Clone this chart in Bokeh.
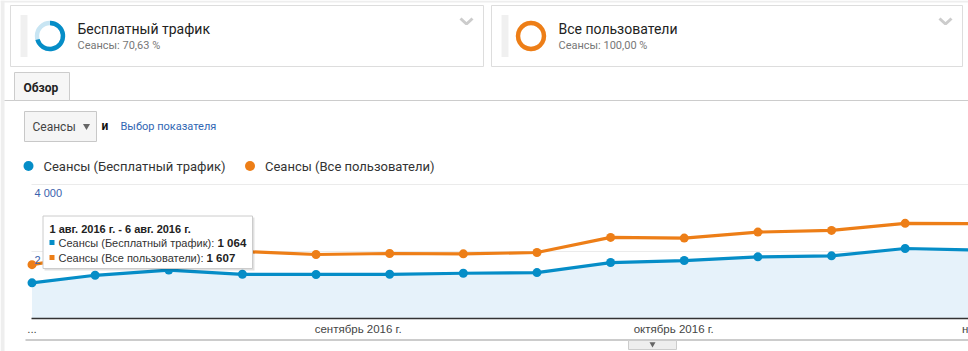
import numpy as np
import pandas as pd
from bokeh.plotting import figure
from bokeh.models import Range1d, ColumnDataSource
from bokeh.core.properties import value
from bokeh.embed import file_html
from bokeh.resources import INLINE

# ---------------- data ----------------
week_start = ["2016-08-01", "2016-08-07", "2016-08-14", "2016-08-21", "2016-08-28",
              "2016-09-04", "2016-09-11", "2016-09-18", "2016-09-25", "2016-10-02",
              "2016-10-09", "2016-10-16", "2016-10-23", "2016-10-30"]
organic = [1064, 1290, 1445, 1320, 1315, 1320, 1350, 1370, 1670, 1730, 1840, 1870, 2090, 2040]
all_users = [1607, 1900, 2010, 2000, 1910, 1940, 1930, 1970, 2420, 2400, 2580, 2630, 2840, 2830]
series_names = ["Сеансы (Бесплатный трафик)", "Сеансы (Все пользователи)"]
segment_names = ["Бесплатный трафик", "Все пользователи"]
segment_share = [70.63, 100.00]
y_ticks = [2000, 4000]
y_tick_labels = ["2 000", "4 000"]
month_dates = ["2016-08-01", "2016-09-01", "2016-10-01", "2016-11-01"]
month_labels = ["...", "сентябрь 2016 г.", "октябрь 2016 г.", "ноябрь 2016 г."]
tooltip_title = "1 авг. 2016 г. - 6 авг. 2016 г."

BLUE = "#058dc7"
ORANGE = "#ed7e17"
FONT = value("Roboto")
FONT2 = value("Liberation Sans")

W, H = 968, 351

def ms(d):
    return pd.Timestamp(d).value / 1e6

DAY = 86400000.0
px_per_day = 10.52
x0_px = 31.5
d0 = ms(week_start[0])
date_range = Range1d(d0 - x0_px / px_per_day * DAY, d0 + (W - x0_px) / px_per_day * DAY)
zero_px, px_per_k = 318.0, 33.5
val_range = Range1d(-(H - zero_px) / px_per_k * 1000, zero_px / px_per_k * 1000)

p = figure(width=W, height=H, x_range=Range1d(0, W), y_range=Range1d(H, 0),
           output_backend="svg", toolbar_location=None, min_border=0,
           x_axis_location=None, y_axis_location=None, outline_line_color=None)
p.grid.visible = False
p.background_fill_color = "white"
p.border_fill_color = "white"
p.extra_x_ranges = {"date": date_range}
p.extra_y_ranges = {"val": val_range}

# page chrome
p.quad(left=[0], right=[4], top=[0], bottom=[H], fill_color="#eeeeee", line_color=None)
p.quad(left=[0], right=[W], top=[0], bottom=[2], fill_color="#eeeeee", line_color=None)

# segment cards
cards = [(10, 483), (491, 962)]
for i, (l, r) in enumerate(cards):
    p.quad(left=[l], right=[r], top=[5], bottom=[66], fill_color="white", line_color="#dddddd", line_width=1)
    # drag handle
    p.segment(x0=[l + 13.5], y0=[15], x1=[l + 13.5], y1=[57], line_color="#e2e2e2", line_width=7, line_dash="1 1")
    cx = l + 39.5
    share = segment_share[i]
    col = BLUE if i == 0 else ORANGE
    bg = "#c8e5f3" if i == 0 else "#fbd9b9"
    p.annular_wedge(x=[cx], y=[35.5], inner_radius=10.8, outer_radius=15.2,
                    start_angle=0, end_angle=2 * np.pi, fill_color=bg, line_color=None)
    p.annular_wedge(x=[cx], y=[35.5], inner_radius=10.8, outer_radius=15.2,
                    start_angle=np.pi / 2, end_angle=np.pi / 2 - 2 * np.pi * share / 100 + 1e-4,
                    direction="clock", fill_color=col, line_color=None)
    tx = l + 67
    p.text(x=[tx], y=[28], text=[segment_names[i]], text_font=FONT, text_font_size="14px",
           text_color="#222222", text_baseline="middle")
    p.text(x=[tx], y=[44.5], text=["Сеансы: " + f"{share:.2f}".replace(".", ",") + " %"], text_font=FONT,
           text_font_size="11px", text_color="#777777", text_baseline="middle")
    p.line(x=[r - 23, r - 17, r - 11], y=[18, 23.5, 18], line_color="#cccccc", line_width=3)

# tab
p.segment(x0=[4], y0=[100], x1=[W], y1=[100], line_color="#cccccc", line_width=1)
p.quad(left=[14], right=[69], top=[72], bottom=[100], fill_color="#f6f6f6", line_color="#cccccc")
p.text(x=[23], y=[87], text=["Обзор"], text_font=FONT, text_font_size="12px", text_font_style="bold",
       text_color="#222222", text_baseline="middle")

# metric selector
p.quad(left=[24], right=[96], top=[111], bottom=[141], fill_color="#f5f5f5", line_color="#c8c8c8")
p.text(x=[32], y=[126], text=["Сеансы"], text_font=FONT, text_font_size="12px",
       text_color="#444444", text_baseline="middle")
p.scatter(x=[86], y=[125.5], marker="inverted_triangle", size=7, fill_color="#666666", line_color=None)
p.text(x=[101], y=[125], text=["и"], text_font=FONT, text_font_size="12px", text_font_style="bold",
       text_color="#111111", text_baseline="middle")
p.text(x=[120], y=[126], text=["Выбор показателя"], text_font=FONT, text_font_size="11px",
       text_color="#2f66b3", text_baseline="middle")

# legend
for i, (lx, c) in enumerate([(28, BLUE), (249.5, ORANGE)]):
    p.scatter(x=[lx], y=[165.5], size=10, fill_color=c, line_color=None)
    p.text(x=[lx + 15], y=[166], text=[series_names[i]], text_font=FONT, text_font_size="13px",
           text_color="#333333", text_baseline="middle")

# ---------------- chart ----------------
src = ColumnDataSource(dict(date=pd.to_datetime(week_start), organic=organic, all_users=all_users))

grid_y = [v for v in y_ticks]
p.segment(x0=[31] * len(grid_y), x1=[W] * len(grid_y), y0=grid_y, y1=grid_y,
          line_color="#ebebeb", line_width=1, y_range_name="val")
p.varea(x="date", y1=0, y2="organic", source=src, fill_color="#e6f2fa",
        x_range_name="date", y_range_name="val")
p.segment(x0=[31], x1=[W], y0=[0], y1=[0], line_color="#333333", line_width=1.5, y_range_name="val")

p.line(x="date", y="all_users", source=src, line_color=ORANGE, line_width=3.2,
       x_range_name="date", y_range_name="val")
p.scatter(x="date", y="all_users", source=src, size=9, fill_color=ORANGE, line_color=None,
          x_range_name="date", y_range_name="val")
p.line(x="date", y="organic", source=src, line_color=BLUE, line_width=3.2,
       x_range_name="date", y_range_name="val")
p.scatter(x="date", y="organic", source=src, size=9, fill_color=BLUE, line_color=None,
          x_range_name="date", y_range_name="val")

p.text(x=[34] * len(y_ticks), y=y_ticks, text=y_tick_labels, text_font=FONT2, text_font_size="11px",
       text_color="#3a62ad", text_baseline="middle", y_offset=8.5, y_range_name="val")

p.text(x=pd.to_datetime(month_dates), y=[0] * len(month_dates), text=month_labels, text_font=FONT2,
       text_font_size="11.5px", text_color="#444444", text_align="center", text_baseline="middle",
       y_offset=10, x_range_name="date", y_range_name="val")

# bottom bar
p.segment(x0=[25], x1=[W], y0=[339.5], y1=[339.5], line_color="#cccccc", line_width=2)
p.quad(left=[628], right=[676], top=[340], bottom=[349], fill_color="#eeeeee", line_color="#cccccc")
p.scatter(x=[652], y=[343.5], marker="inverted_triangle", size=6, fill_color="#666666", line_color=None)

# tooltip
p.quad(left=[44], right=[254], top=[217], bottom=[270], fill_color="#000000", fill_alpha=0.12, line_color=None)
p.quad(left=[42.5], right=[252], top=[215.5], bottom=[268], fill_color="white", line_color="#cccccc")
p.text(x=[49], y=[228], text=[tooltip_title], text_font=FONT2, text_font_size="11px",
       text_font_style="bold", text_color="#222222", text_baseline="middle")
fmt = lambda v: f"{v:,}".replace(",", " ")
for j, (yy, c, nm, v) in enumerate([(242, BLUE, series_names[0], organic[0]),
                                     (257, ORANGE, series_names[1], all_users[0])]):
    p.quad(left=[49], right=[54], top=[yy - 2.5], bottom=[yy + 2.5], fill_color=c, line_color=None)
    p.text(x=[58], y=[yy], text=[nm + ":"], text_font=FONT2, text_font_size="11px",
           text_color="#333333", text_baseline="middle")
p.text(x=[217, 206], y=[242, 257], text=[fmt(organic[0]), fmt(all_users[0])], text_font=FONT2,
       text_font_size="11.5px", text_font_style="bold", text_color="#222222", text_baseline="middle")

open("out.html", "w").write(file_html(p, INLINE))
